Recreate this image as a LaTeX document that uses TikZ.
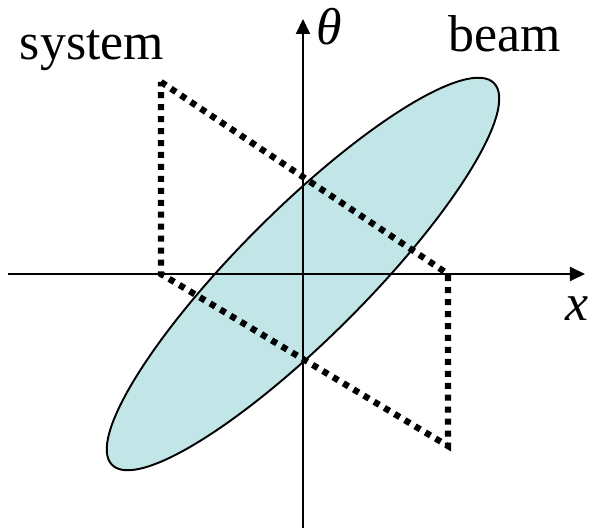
\documentclass[tikz,border=0pt]{standalone}
\usepackage{fontspec}
\setmainfont{Liberation Serif}
\usepackage{xcolor}
\usepackage{tikz}
\usetikzlibrary{arrows.meta,calc}
\definecolor{beamfill}{HTML}{C2E5E7}
\tikzset{
  axis/.style={-{Triangle[length=0.3cm, width=0.28cm]}, line width=1.1pt, draw=black},
  beam/.style={draw=black, fill=beamfill, line width=1.1pt},
  sysline/.style={draw=black, line width=3.6pt, dash pattern=on 3.4pt off 3.4pt},
  lbl/.style={font=\fontsize{29.5}{34}\selectfont, anchor=base, inner sep=0pt},
}

\begin{document}
\begin{tikzpicture}
  \useasboundingbox (-6.06,-5.12) rectangle (5.74,5.48);
  % beam ellipse
  \draw[beam, rotate=45] (0,0) ellipse (5.4cm and 1.28cm);
  % axes
  \coordinate (xl) at (-5.9,0);
  \coordinate (xr) at (5.64,0);
  \coordinate (yb) at (0,-5.08);
  \coordinate (yt) at (0,5.1);
  \draw[axis] (xl) -- (xr);
  \draw[axis] (yb) -- (yt);
  % system acceptance
  \coordinate (A) at (-2.84,3.84);
  \coordinate (B) at (2.9,0);
  \coordinate (C) at (2.9,-3.44);
  \coordinate (D) at (-2.84,0);
  \draw[sysline] (A) -- (B) -- (C) -- (D) -- cycle;
  % labels
  \node[lbl] (sys) at (-4.22,4.28) {system};
  \node[lbl] (bm) at (4.04,4.44) {beam};
  \node[lbl] (th) at (0.52,4.58) {\textit{θ}};
  \node[lbl] (xx) at (5.48,-0.94) {\textit{x}};
\end{tikzpicture}
\end{document}
